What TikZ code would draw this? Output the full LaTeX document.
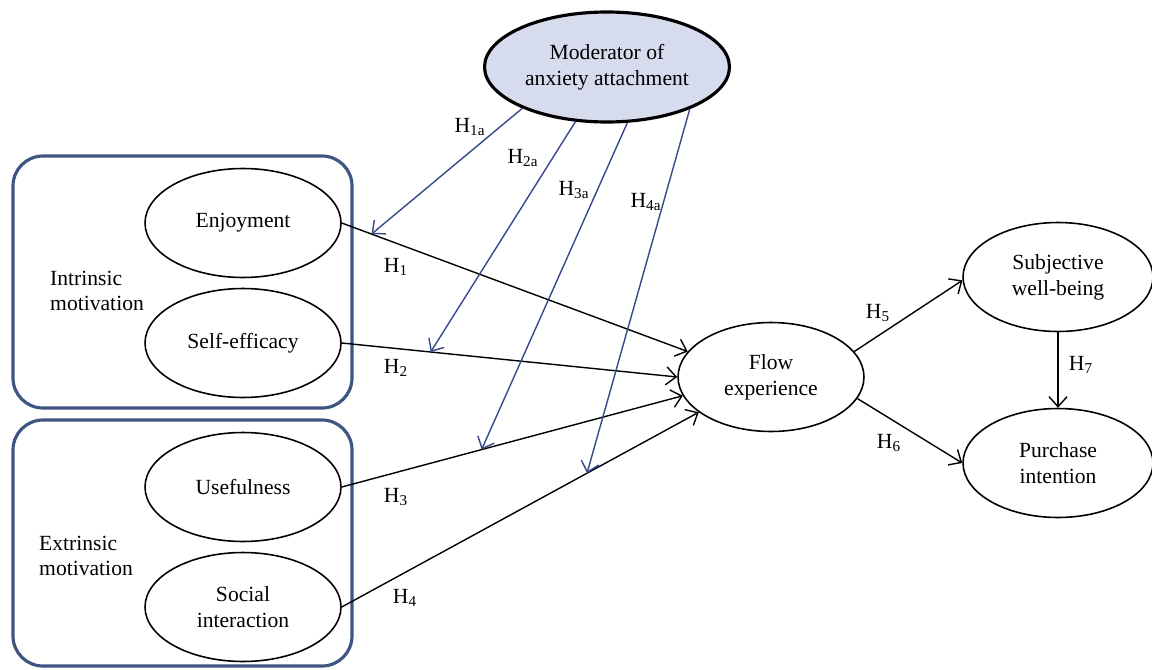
\documentclass[tikz,border=0pt]{standalone}
\usepackage{fontspec}
\setmainfont{Liberation Serif}
\usetikzlibrary{shapes.geometric,arrows.meta}

\definecolor{boxblue}{RGB}{62,84,130}
\definecolor{modblue}{RGB}{55,72,140}
\definecolor{modfill}{RGB}{214,220,237}

\tikzset{
    every node/.style={font=\fontsize{12.3}{14.7}\selectfont},
    construct/.style={draw, ellipse, line width=0.9pt, align=center, inner sep=0pt,
        minimum width=3.92cm, minimum height=2.18cm},
    moderator/.style={construct, fill=modfill, line width=1.8pt,
        minimum width=4.9cm, minimum height=2.2cm},
    groupbox/.style={draw=boxblue, line width=1.8pt, rounded corners=0.6cm},
    hyp/.style={-{Straight Barb[length=2mm,width=3.6mm]}, line width=0.8pt},
    modarrow/.style={hyp, draw=modblue},
}

\begin{document}
\begin{tikzpicture}[x=0.02cm, y=-0.02cm]
    \useasboundingbox (0,0) rectangle (1152,669);

    \draw [groupbox] (13,156) rectangle (352,408);
    \draw [groupbox] (13,420) rectangle (352,666);

    \node[anchor=west, align=left] (intr) at (44,291) {Intrinsic\\motivation};
    \node[anchor=west, align=left] (extr) at (33,556) {Extrinsic\\motivation};

    \node[construct] (enj) at (243,223) {Enjoyment};
    \node[construct] (self) at (243,343) {Self-efficacy};
    \node[construct] (use) at (243,487) {Usefulness};
    \node[construct] (soc) at (243,607) {Social\\interaction};

    \node[construct, minimum width=3.72cm] (flow) at (771,377) {Flow\\experience};
    \node[construct, minimum width=3.8cm] (swb) at (1058,277) {Subjective\\well-being};
    \node[construct, minimum width=3.8cm] (pi) at (1058,463) {Purchase\\intention};

    \node[moderator] (mod) at (607,67) {Moderator of\\anxiety attachment};

    \draw [hyp] (enj.east) -- coordinate[pos=0.086] (m1) (flow.163);
    \draw [hyp] (self.east) -- coordinate[pos=0.265] (m2) (flow.180);
    \draw [hyp] (use.east) -- coordinate[pos=0.41] (m3) (flow.192);
    \draw [hyp] (soc.east) -- coordinate[pos=0.687] (m4) (flow.206);
    \draw [hyp] (flow.17) -- (swb.182);
    \draw [hyp] (flow.346) -- (pi.west);
    \draw [hyp] (swb.south) -- (pi.north);

    \foreach \a/\m in {206/m1, 240/m2, 290/m3, 333/m4} {
        \draw [modarrow] (mod.\a) -- (\m);
    }

    \node (h1) at (396,267) {H\textsubscript{1}};
    \node (h2) at (396,368) {H\textsubscript{2}};
    \node (h3) at (396,497) {H\textsubscript{3}};
    \node (h4) at (405,598) {H\textsubscript{4}};
    \node (h5) at (878,313) {H\textsubscript{5}};
    \node (h6) at (889,443) {H\textsubscript{6}};
    \node (h7) at (1081,365) {H\textsubscript{7}};

    \node (h1a) at (470,127) {H\textsubscript{1a}};
    \node (h2a) at (523,158) {H\textsubscript{2a}};
    \node (h3a) at (574,190) {H\textsubscript{3a}};
    \node (h4a) at (646,202) {H\textsubscript{4a}};

\end{tikzpicture}
\end{document}
